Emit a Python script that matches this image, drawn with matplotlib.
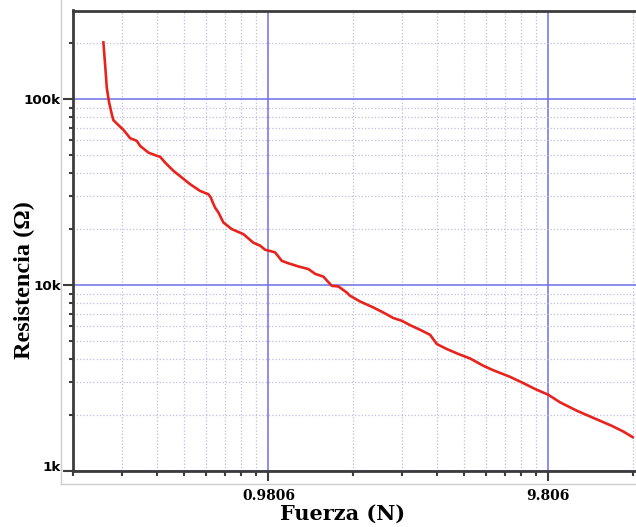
import matplotlib
matplotlib.use('Agg')
import matplotlib.pyplot as plt
from matplotlib.ticker import FixedLocator, NullFormatter
from matplotlib.lines import Line2D
from matplotlib.transforms import ScaledTranslation

# Curva fuerza-resistencia del sensor
fuerza = [0.2524, 0.2560, 0.2596, 0.2646, 0.2705, 0.2741, 0.2857, 0.2977, 0.3146, 0.3322,
          0.3414, 0.3656, 0.3917, 0.4025, 0.4195, 0.4489, 0.4811, 0.5151, 0.5592, 0.5987,
          0.6106, 0.6207, 0.6326, 0.6500, 0.6774, 0.7258, 0.7983, 0.8667, 0.9160, 0.9543,
          1.0361, 1.0949, 1.1559, 1.2549, 1.3625, 1.4398, 1.5414, 1.6519, 1.7438, 1.8685,
          1.920, 2.085, 2.325, 2.524, 2.741, 2.937, 3.144, 3.415, 3.708, 3.918,
          4.253, 4.678, 5.152, 5.748, 6.240, 7.156, 7.982, 8.796, 9.806, 10.80,
          12.39, 14.20, 16.52, 18.17, 19.63]
resistencia = [202000, 154000, 115000, 95900, 83000, 77100, 72500, 68400, 61700, 59700,
               56100, 51600, 49600, 49000, 45600, 41200, 37900, 34900, 32100, 30800,
               29600, 27800, 26100, 24600, 21700, 20000, 18800, 16900, 16300, 15500,
               15000, 13500, 13100, 12600, 12200, 11500, 11100, 9910, 9830, 9120,
               8760, 8160, 7580, 7120, 6650, 6430, 6090, 5750, 5400, 4820,
               4530, 4260, 4030, 3680, 3480, 3210, 2970, 2760, 2570, 2340,
               2110, 1930, 1750, 1630, 1520]

x_ticks = [0.9806, 9.806]
x_tick_labels = ['0.9806', '9.806']
y_ticks = [1e3, 1e4, 1e5]
y_tick_labels = ['1k', '10k', '100k']

W, H = 636, 527
fig = plt.figure(figsize=(W / 100, H / 100), dpi=100)
ax = fig.add_axes([72.7 / W, 1 - 471 / H, 1 - 72.7 / W, 460.5 / H])

ax.plot(fuerza, resistencia, color='#e8231e', lw=1.9, zorder=5)

ax.set_xscale('log')
ax.set_yscale('log')
ax.set_xlim(0.19612, 20.16)
ax.set_ylim(1000, 300000)

# marcas en múltiplos de 1 kgf (9.806 N)
x_minor = [k * 0.09806 for k in range(2, 10)] + [k * 0.9806 for k in range(2, 10)] + [2 * 9.806]
ax.xaxis.set_major_locator(FixedLocator(x_ticks))
ax.xaxis.set_minor_locator(FixedLocator(x_minor))
ax.xaxis.set_minor_formatter(NullFormatter())
ax.set_xticklabels(x_tick_labels, fontfamily='DejaVu Serif', fontweight='bold', fontsize=10)

y_minor = [k * d for d in (1e3, 1e4) for k in range(2, 10)] + [2e5]
ax.yaxis.set_major_locator(FixedLocator(y_ticks))
ax.yaxis.set_minor_locator(FixedLocator(y_minor))
ax.yaxis.set_minor_formatter(NullFormatter())
ax.set_yticklabels(y_tick_labels, fontfamily='DejaVu Sans', fontweight='bold', fontsize=9.7)

ax.grid(which='major', color='#6d6deb', lw=1.1, ls='-')
ax.grid(which='minor', color='#bfbfe0', lw=0.9, ls=':')
ax.set_axisbelow(True)

ax.spines['right'].set_visible(False)
for s in ['left', 'top', 'bottom']:
    ax.spines[s].set_color('#3c3c3c')
    ax.spines[s].set_linewidth(2)

ax.tick_params(axis='x', which='major', direction='out', length=7, width=1.5, color='#3c3c3c', pad=6)
ax.tick_params(axis='x', which='minor', direction='out', length=3.5, width=1.5, color='#3c3c3c')
ax.tick_params(axis='y', which='major', direction='out', length=7, width=1.5, color='#3c3c3c', pad=1.5)
ax.tick_params(axis='y', which='minor', direction='out', length=3, width=1.5, color='#3c3c3c')

# la etiqueta "1k" va un poco por encima del eje
lab_1k = ax.yaxis.get_major_ticks()[0].label1
lab_1k.set_transform(lab_1k.get_transform() + ScaledTranslation(0, 0.05, fig.dpi_scale_trans))

ax.set_xlabel('Fuerza (N)', fontfamily='DejaVu Serif', fontweight='bold', fontsize=15)
ax.xaxis.set_label_coords((343 - 72.7) / (W - 72.7), -0.071)
ax.set_ylabel('Resistencia (Ω)', fontfamily='Liberation Serif', fontweight='bold', fontsize=17.5)
ax.yaxis.set_label_coords(-0.067, (471 - 280) / 460.5)

# marco gris exterior
fig.add_artist(Line2D([60.7 / W, 60.7 / W], [1, 1 - 484.3 / H], transform=fig.transFigure,
                      color='#cdcdcd', lw=1))
fig.add_artist(Line2D([60.7 / W, 1], [1 - 484.3 / H, 1 - 484.3 / H], transform=fig.transFigure,
                      color='#cdcdcd', lw=1))

fig.savefig('out.png', dpi=100)
